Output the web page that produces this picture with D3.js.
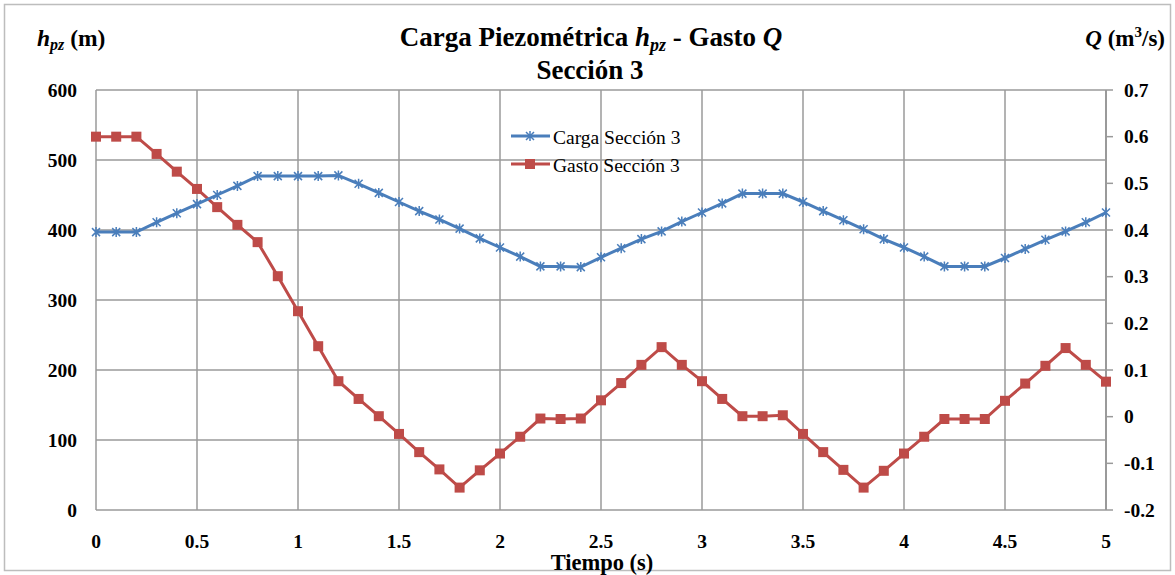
<!DOCTYPE html>
<html>
<head>
<meta charset="utf-8">
<script src="https://cdn.jsdelivr.net/npm/d3@7"></script>
<style>
  body { margin: 0; background: #fff; }
</style>
</head>
<body>
<svg id="chart" width="1175" height="575"></svg>
<script>
// tiempo (s)
const tiempo = d3.range(51).map(i => +(i * 0.1).toFixed(1));

// carga piezometrica (m)
const carga = [397, 397, 397, 411, 424, 437, 450, 463, 477, 477,
  477, 477, 478, 466, 453, 440, 427, 415, 402, 388,
  375, 362, 348, 348, 347, 361, 374, 387, 398, 412,
  425, 438, 452, 452, 452, 440, 427, 414, 401, 387,
  375, 362, 348, 348, 348, 360, 373, 386, 398, 411, 425];

// gasto (m3/s)
const gasto = [0.600, 0.600, 0.600, 0.563, 0.525, 0.488, 0.449, 0.411, 0.374, 0.301,
  0.226, 0.151, 0.076, 0.038, 0.001, -0.037, -0.076, -0.113, -0.152, -0.115,
  -0.079, -0.043, -0.004, -0.005, -0.004, 0.035, 0.072, 0.111, 0.149, 0.111,
  0.076, 0.038, 0.001, 0.001, 0.003, -0.037, -0.076, -0.114, -0.152, -0.116,
  -0.079, -0.043, -0.005, -0.005, -0.005, 0.034, 0.071, 0.109, 0.147, 0.111, 0.075];

const xTicks = [0, 0.5, 1, 1.5, 2, 2.5, 3, 3.5, 4, 4.5, 5];
const leftTicks = [0, 100, 200, 300, 400, 500, 600];
const rightTicks = [-0.2, -0.1, 0, 0.1, 0.2, 0.3, 0.4, 0.5, 0.6, 0.7];

const svg = d3.select("#chart");
const m = { left: 96, right: 1106, top: 90, bottom: 510 };

const x = d3.scaleLinear().domain([0, 5]).range([m.left, m.right]);
const yL = d3.scaleLinear().domain([0, 600]).range([m.bottom, m.top]);
const yR = d3.scaleLinear().domain([-0.2, 0.7]).range([m.bottom, m.top]);

const blue = "#4a7ebb", red = "#be4b48", grid = "#9a9a9a";

// outer frame
svg.append("rect").attr("x", 4.5).attr("y", 4.5).attr("width", 1166).attr("height", 566)
  .attr("fill", "none").attr("stroke", "#bdbdbd").attr("stroke-width", 1.5);

// grid
svg.append("g").selectAll("line").data(leftTicks).join("line")
  .attr("x1", m.left).attr("x2", m.right)
  .attr("y1", d => yL(d)).attr("y2", d => yL(d))
  .attr("stroke", grid).attr("stroke-width", 1.5);
svg.append("g").selectAll("line").data(xTicks).join("line")
  .attr("x1", d => x(d)).attr("x2", d => x(d))
  .attr("y1", m.top).attr("y2", m.bottom)
  .attr("stroke", grid).attr("stroke-width", 1.5);

// right axis
svg.append("line").attr("x1", m.right).attr("x2", m.right).attr("y1", m.top).attr("y2", m.bottom)
  .attr("stroke", grid).attr("stroke-width", 2);
svg.append("g").selectAll("line").data(rightTicks).join("line")
  .attr("x1", m.right).attr("x2", m.right + 7)
  .attr("y1", d => yR(d)).attr("y2", d => yR(d))
  .attr("stroke", grid).attr("stroke-width", 1.5);

// tick labels
svg.append("g").selectAll("text").data(leftTicks).join("text")
  .attr("x", 77).attr("y", d => yL(d)).attr("dy", "0.35em")
  .attr("text-anchor", "end").attr("font-weight", "bold").attr("font-size", 19.5)
  .text(d => d);
svg.append("g").selectAll("text").data(rightTicks).join("text")
  .attr("x", 1124).attr("y", d => yR(d)).attr("dy", "0.35em")
  .attr("font-weight", "bold").attr("font-size", 19.5)
  .text(d => d);
svg.append("g").selectAll("text").data(xTicks).join("text")
  .attr("x", d => x(d)).attr("y", 541).attr("dy", "0.35em")
  .attr("text-anchor", "middle").attr("font-weight", "bold").attr("font-size", 19.5)
  .text(d => d);

// lines
const lineL = d3.line().x((d, i) => x(tiempo[i])).y(d => yL(d));
const lineR = d3.line().x((d, i) => x(tiempo[i])).y(d => yR(d));

svg.append("path").datum(gasto).attr("d", lineR)
  .attr("fill", "none").attr("stroke", red).attr("stroke-width", 3);
svg.append("g").selectAll("rect").data(gasto).join("rect")
  .attr("x", (d, i) => x(tiempo[i]) - 5).attr("y", d => yR(d) - 5)
  .attr("width", 10).attr("height", 10).attr("fill", red);

svg.append("path").datum(carga).attr("d", lineL)
  .attr("fill", "none").attr("stroke", blue).attr("stroke-width", 3);
const star = "M-4,-4L4,4M-4,4L4,-4M0,-5L0,5";
svg.append("g").selectAll("path").data(carga).join("path")
  .attr("transform", (d, i) => `translate(${x(tiempo[i])},${yL(d)})`)
  .attr("d", star).attr("stroke", blue).attr("stroke-width", 1.5).attr("fill", "none");

// legend
const leg = svg.append("g");
leg.append("line").attr("x1", 511).attr("x2", 550).attr("y1", 136).attr("y2", 136)
  .attr("stroke", blue).attr("stroke-width", 3);
leg.append("path").attr("transform", "translate(530,136)").attr("d", star)
  .attr("stroke", blue).attr("stroke-width", 1.5);
leg.append("line").attr("x1", 511).attr("x2", 550).attr("y1", 164).attr("y2", 164)
  .attr("stroke", red).attr("stroke-width", 3);
leg.append("rect").attr("x", 525).attr("y", 159).attr("width", 10).attr("height", 10).attr("fill", red);
leg.append("text").attr("x", 553).attr("y", 137).attr("dy", "0.35em").attr("font-size", 19.5)
  .text("Carga Sección 3");
leg.append("text").attr("x", 553).attr("y", 165).attr("dy", "0.35em").attr("font-size", 19.5)
  .text("Gasto Sección 3");

// title
const t = svg.append("text").attr("x", 591).attr("y", 46).attr("text-anchor", "middle")
  .attr("font-weight", "bold").attr("font-size", 27);
t.append("tspan").text("Carga Piezométrica ");
t.append("tspan").attr("font-style", "italic").text("h");
t.append("tspan").attr("font-style", "italic").attr("font-size", 18).attr("dy", 5).text("pz");
t.append("tspan").attr("dy", -5).text(" - Gasto ");
t.append("tspan").attr("font-style", "italic").text("Q");
svg.append("text").attr("x", 590).attr("y", 79).attr("text-anchor", "middle")
  .attr("font-weight", "bold").attr("font-size", 27).text("Sección 3");

// axis titles
const tl = svg.append("text").attr("x", 37).attr("y", 46).attr("font-weight", "bold").attr("font-size", 23.5);
tl.append("tspan").attr("font-style", "italic").text("h");
tl.append("tspan").attr("font-style", "italic").attr("font-size", 16).attr("dy", 4).text("pz");
tl.append("tspan").attr("dy", -4).text(" (m)");

const tr = svg.append("text").attr("x", 1165).attr("y", 46).attr("text-anchor", "end")
  .attr("font-weight", "bold").attr("font-size", 23);
tr.append("tspan").attr("font-style", "italic").text("Q");
tr.append("tspan").text(" (m");
tr.append("tspan").attr("font-size", 15).attr("dy", -9).text("3");
tr.append("tspan").attr("dy", 9).text("/s)");

svg.append("text").attr("x", 602).attr("y", 562).attr("dy", "0.35em").attr("text-anchor", "middle")
  .attr("font-weight", "bold").attr("font-size", 22.5).text("Tiempo (s)");

// serif everywhere
svg.selectAll("text, tspan").style("font-family", "Liberation Serif");
</script>
</body>
</html>
